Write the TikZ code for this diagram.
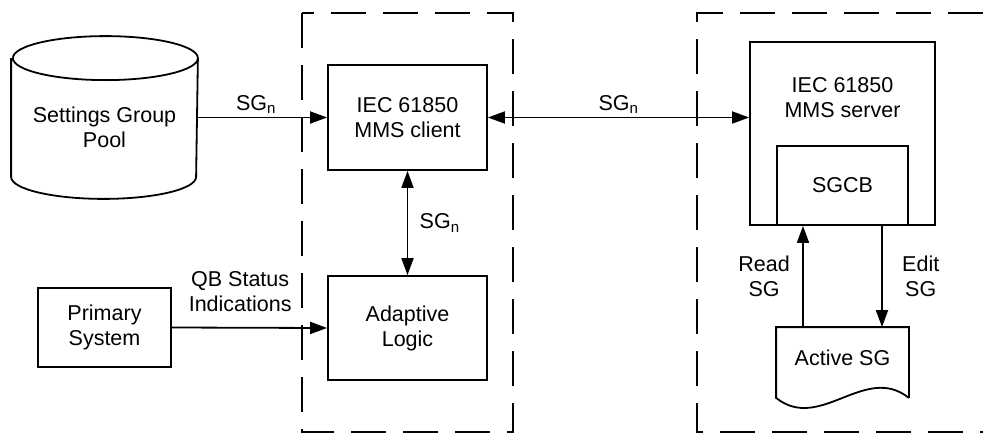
\documentclass[tikz,border=0pt]{standalone}
\usepackage{fontspec}
\setmainfont{Liberation Sans}
\usetikzlibrary{arrows.meta,positioning}

\begin{document}
\begin{tikzpicture}[x=1pt,y=-1pt,>={Triangle[length=17pt,width=12pt]},
  font=\fontsize{21.5}{25}\selectfont,line width=1.8pt,
  blk/.style={draw,line width=1.8pt,align=center,inner sep=0pt},
  lbl/.style={align=center},
  zone/.style={line width=1.8pt,dash pattern=on 35pt off 17pt}]
\useasboundingbox (0,0) rectangle (983,434);
% dashed regions
\draw[zone] (302,13) rectangle (513,432);
\draw[zone] (983,13) -- (697,13) -- (697,432) -- (983,432);
% settings group pool (cylinder)
\node[minimum width=185pt,minimum height=161pt,inner sep=0pt] (pool) at (104.5,117.5) {};
\node[lbl] (pooltext) at (104.5,127) {Settings Group\\Pool};
\draw ([yshift=-22pt]pool.north west) -- ([yshift=22pt]pool.south west)
  arc[start angle=180,end angle=360,x radius=92.5pt,y radius=22pt]
  -- ([yshift=-22pt]pool.north east)
  arc[start angle=0,end angle=360,x radius=92.5pt,y radius=22pt];
\node[blk,minimum width=133pt,minimum height=79pt] (prim) at (104.5,327.5) {Primary\\System};
\node[blk,minimum width=159pt,minimum height=105pt] (client) at (407.5,117.5) {IEC 61850\\MMS client};
\node[blk,minimum width=159pt,minimum height=104pt] (logic) at (407.5,328) {Adaptive\\Logic};
\node[blk,minimum width=185pt,minimum height=183pt] (server) at (842.5,133.5) {};
\node[lbl] (srvtext) at (842.5,98) {IEC 61850\\MMS server};
\node[blk,minimum width=131pt,minimum height=79pt,anchor=south] (sgcb) at (server.south) {SGCB};
% active SG (document shape)
\node[minimum width=131pt,minimum height=69pt,inner sep=0pt] (active) at (842.5,362.5) {};
\node (acttext) at (842.5,358) {Active SG};
\draw (active.south east) -- (active.north east) -- (active.north west) -- (active.south west)
  .. controls +(44,35) and +(-44,-35) .. (active.south east);
% connectors
\draw[->] (pool.east) -- node[above,pos=0.45] (sgpool) {SG\textsubscript{n}} (client.west);
\draw[<->] (client.east) -- node[above] (sglink) {SG\textsubscript{n}} (client.east -| server.west);
\draw[<->] (client.south) -- node[right,xshift=8pt] (sglogic) {SG\textsubscript{n}} (logic.north);
\draw[->] (prim.east) -- node[above,pos=0.44,lbl,yshift=12pt] (qb) {QB Status\\Indications} (logic.west);
\draw[->] ([xshift=-39.5pt]active.north) -- node[left,lbl,xshift=-9pt] (rd) {Read\\SG} ([xshift=-39.5pt]sgcb.south);
\draw[->] ([xshift=39.5pt]sgcb.south) -- node[right,lbl,xshift=16pt] (ed) {Edit\\SG} ([xshift=39.5pt]active.north);
\end{tikzpicture}
\end{document}
